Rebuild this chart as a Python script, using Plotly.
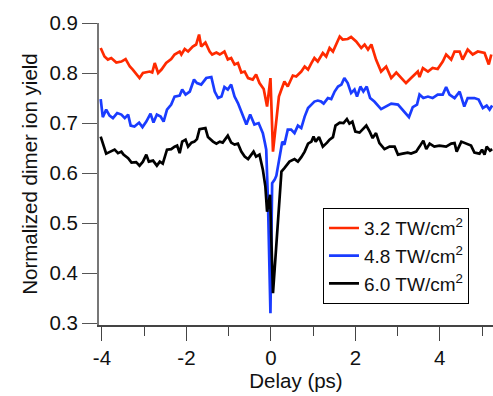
import plotly.graph_objects as go

# --- data ---
red_delay = [-4.03, -3.94, -3.86, -3.78, -3.66, -3.54, -3.44, -3.34, -3.27, -3.11, -3.03, -2.87, -2.81, -2.75,
             -2.67, -2.59, -2.48, -2.36, -2.28, -2.16, -2.12, -2.04, -1.96, -1.85, -1.77, -1.70, -1.65, -1.55,
             -1.45, -1.39, -1.29, -1.21, -1.10, -1.02, -0.94, -0.86, -0.78, -0.70, -0.62, -0.54, -0.43, -0.35,
             -0.27, -0.17, -0.09, -0.01, 0.05, 0.13, 0.19, 0.25, 0.32, 0.40, 0.52, 0.60, 0.72, 0.80, 0.88, 0.96,
             1.03, 1.11, 1.23, 1.31, 1.39, 1.47, 1.55, 1.63, 1.70, 1.82, 1.90, 2.02, 2.14, 2.22, 2.30, 2.38, 2.49,
             2.61, 2.73, 2.85, 2.97, 3.09, 3.20, 3.32, 3.48, 3.52, 3.60, 3.72, 3.83, 3.95, 4.07, 4.15, 4.27, 4.35,
             4.47, 4.54, 4.66, 4.78, 4.90, 5.06, 5.16, 5.22]
red_yield = [0.850, 0.833, 0.827, 0.830, 0.821, 0.823, 0.828, 0.813, 0.807, 0.790, 0.800, 0.803, 0.801, 0.820,
             0.800, 0.807, 0.820, 0.828, 0.837, 0.843, 0.837, 0.848, 0.843, 0.853, 0.857, 0.877, 0.853, 0.861,
             0.843, 0.837, 0.841, 0.837, 0.843, 0.827, 0.830, 0.817, 0.820, 0.801, 0.803, 0.790, 0.787, 0.797,
             0.780, 0.768, 0.733, 0.790, 0.643, 0.713, 0.753, 0.767, 0.783, 0.773, 0.795, 0.793, 0.803, 0.813,
             0.807, 0.820, 0.830, 0.823, 0.840, 0.833, 0.850, 0.843, 0.860, 0.873, 0.867, 0.868, 0.872, 0.863,
             0.850, 0.857, 0.847, 0.857, 0.827, 0.803, 0.813, 0.790, 0.801, 0.790, 0.780, 0.790, 0.803, 0.792,
             0.810, 0.803, 0.810, 0.808, 0.823, 0.837, 0.827, 0.843, 0.843, 0.827, 0.847, 0.837, 0.843, 0.840,
             0.817, 0.837]

blue_delay = [-4.03, -3.98, -3.90, -3.82, -3.74, -3.64, -3.54, -3.46, -3.38, -3.32, -3.23, -3.12, -3.04, -2.95,
              -2.85, -2.78, -2.70, -2.61, -2.54, -2.46, -2.36, -2.28, -2.16, -2.10, -2.02, -1.92, -1.82, -1.75,
              -1.65, -1.53, -1.41, -1.33, -1.25, -1.17, -1.10, -1.02, -0.94, -0.86, -0.78, -0.66, -0.58, -0.49,
              -0.39, -0.29, -0.19, -0.14, -0.11, -0.07, -0.03, -0.01, 0.03, 0.09, 0.13, 0.21, 0.27, 0.32, 0.40,
              0.48, 0.56, 0.64, 0.72, 0.80, 0.88, 0.96, 1.03, 1.11, 1.19, 1.25, 1.35, 1.43, 1.51, 1.59, 1.67,
              1.74, 1.82, 1.90, 1.98, 2.04, 2.12, 2.19, 2.27, 2.35, 2.45, 2.61, 2.73, 2.85, 3.01, 3.12, 3.27,
              3.36, 3.46, 3.52, 3.61, 3.72, 3.83, 3.95, 4.07, 4.15, 4.23, 4.35, 4.47, 4.58, 4.66, 4.82, 4.92,
              5.02, 5.11, 5.18, 5.24]
blue_yield = [0.748, 0.712, 0.727, 0.715, 0.710, 0.720, 0.717, 0.710, 0.717, 0.695, 0.693, 0.701, 0.692, 0.703,
              0.719, 0.701, 0.717, 0.713, 0.703, 0.727, 0.737, 0.753, 0.755, 0.767, 0.757, 0.763, 0.787, 0.780,
              0.777, 0.790, 0.792, 0.763, 0.750, 0.753, 0.772, 0.767, 0.777, 0.753, 0.740, 0.713, 0.697, 0.717,
              0.697, 0.700, 0.680, 0.660, 0.647, 0.547, 0.427, 0.320, 0.580, 0.587, 0.595, 0.633, 0.663, 0.657,
              0.687, 0.687, 0.680, 0.695, 0.690, 0.713, 0.730, 0.737, 0.743, 0.745, 0.743, 0.739, 0.750, 0.748,
              0.763, 0.773, 0.777, 0.790, 0.780, 0.760, 0.767, 0.753, 0.773, 0.763, 0.773, 0.750, 0.743, 0.728,
              0.733, 0.739, 0.737, 0.727, 0.712, 0.732, 0.737, 0.757, 0.750, 0.753, 0.750, 0.757, 0.757, 0.772,
              0.757, 0.750, 0.763, 0.733, 0.750, 0.750, 0.747, 0.730, 0.735, 0.727, 0.735]

black_delay = [-4.03, -3.96, -3.90, -3.80, -3.70, -3.62, -3.54, -3.49, -3.38, -3.30, -3.19, -3.11, -3.03, -2.95,
               -2.89, -2.79, -2.70, -2.63, -2.56, -2.46, -2.36, -2.28, -2.22, -2.16, -2.10, -2.02, -1.96, -1.88,
               -1.81, -1.75, -1.69, -1.55, -1.49, -1.37, -1.29, -1.21, -1.14, -1.02, -0.94, -0.86, -0.78, -0.70,
               -0.62, -0.54, -0.46, -0.41, -0.35, -0.27, -0.19, -0.13, -0.09, -0.02, 0.05, 0.25, 0.32, 0.44,
               0.56, 0.64, 0.72, 0.80, 0.88, 0.96, 1.01, 1.06, 1.14, 1.23, 1.33, 1.39, 1.47, 1.53, 1.63, 1.72,
               1.80, 1.86, 1.93, 2.00, 2.10, 2.18, 2.26, 2.34, 2.41, 2.49, 2.57, 2.69, 2.81, 2.93, 3.01, 3.12,
               3.24, 3.32, 3.44, 3.52, 3.61, 3.68, 3.76, 3.87, 3.99, 4.15, 4.27, 4.35, 4.40, 4.51, 4.62, 4.74,
               4.82, 4.94, 5.00, 5.06, 5.11, 5.19, 5.24]
black_yield = [0.673, 0.653, 0.639, 0.643, 0.647, 0.640, 0.643, 0.637, 0.630, 0.621, 0.622, 0.615, 0.623, 0.637,
               0.623, 0.625, 0.615, 0.623, 0.619, 0.647, 0.648, 0.653, 0.655, 0.640, 0.663, 0.667, 0.653, 0.661,
               0.663, 0.668, 0.688, 0.690, 0.672, 0.663, 0.659, 0.663, 0.661, 0.675, 0.661, 0.657, 0.659, 0.643,
               0.633, 0.628, 0.637, 0.643, 0.633, 0.637, 0.607, 0.573, 0.523, 0.557, 0.360, 0.603, 0.610, 0.623,
               0.628, 0.623, 0.632, 0.643, 0.659, 0.663, 0.673, 0.663, 0.672, 0.653, 0.661, 0.667, 0.672, 0.695,
               0.701, 0.700, 0.708, 0.699, 0.703, 0.683, 0.681, 0.688, 0.695, 0.683, 0.670, 0.680, 0.660, 0.648,
               0.653, 0.653, 0.637, 0.639, 0.641, 0.639, 0.643, 0.653, 0.665, 0.648, 0.659, 0.653, 0.655, 0.653,
               0.659, 0.660, 0.643, 0.663, 0.659, 0.655, 0.641, 0.639, 0.647, 0.637, 0.653, 0.645, 0.648]

series_names = ["3.2 TW/cm<sup>2</sup>", "4.8 TW/cm<sup>2</sup>", "6.0 TW/cm<sup>2</sup>"]
series_colors = ["#ff2a00", "#1a3cff", "#000000"]

x_tick_vals = [-4, -2, 0, 2, 4]
x_tick_text = ["-4", "-2", "0", "2", "4"]
y_tick_vals = [0.3, 0.4, 0.5, 0.6, 0.7, 0.8, 0.9]
y_tick_text = ["0.3", "0.4", "0.5", "0.6", "0.7", "0.8", "0.9"]

FONT = "Liberation Sans, Arial, Helvetica, sans-serif"
FS = 20.5

fig = go.Figure()
for xs, ys, name, color in zip([red_delay, blue_delay, black_delay],
                               [red_yield, blue_yield, black_yield],
                               series_names, series_colors):
    fig.add_trace(go.Scatter(x=xs, y=ys, mode="lines", name=name,
                             line=dict(color=color, width=2.7)))

fig.update_layout(
    width=493, height=396,
    margin=dict(l=99, r=0, t=23, b=71),
    paper_bgcolor="white", plot_bgcolor="white",
    font=dict(family=FONT, size=FS, color="#111111"),
    showlegend=True,
    legend=dict(x=0.5685, y=0.387, xanchor="left", yanchor="top",
                bordercolor="#000000", borderwidth=1, bgcolor="white",
                font=dict(family=FONT, size=19, color="#111111"),
                tracegroupgap=0, itemwidth=30),
    xaxis=dict(range=[-4.07, 5.26], showgrid=False, zeroline=False,
               showline=True, linecolor="#444444", linewidth=1.5,
               ticks="outside", ticklen=14, tickwidth=1.2, tickcolor="#444444",
               tickvals=x_tick_vals, ticktext=x_tick_text,
               minor=dict(dtick=1, tick0=-5, ticks="outside", ticklen=9, tickwidth=1.2,
                          tickcolor="#444444", showgrid=False),
               title=dict(text="Delay (ps)", font=dict(size=FS), standoff=2)),
    yaxis=dict(range=[0.2966, 0.9], showgrid=False, zeroline=False,
               showline=True, linecolor="#777777", linewidth=2,
               ticks="outside", ticklen=15, tickwidth=1.2, tickcolor="#555555",
               tickvals=y_tick_vals, ticktext=y_tick_text,
               title=dict(text="Normalized dimer ion yield", font=dict(size=FS), standoff=6)),
)

fig.write_html("out.html")
